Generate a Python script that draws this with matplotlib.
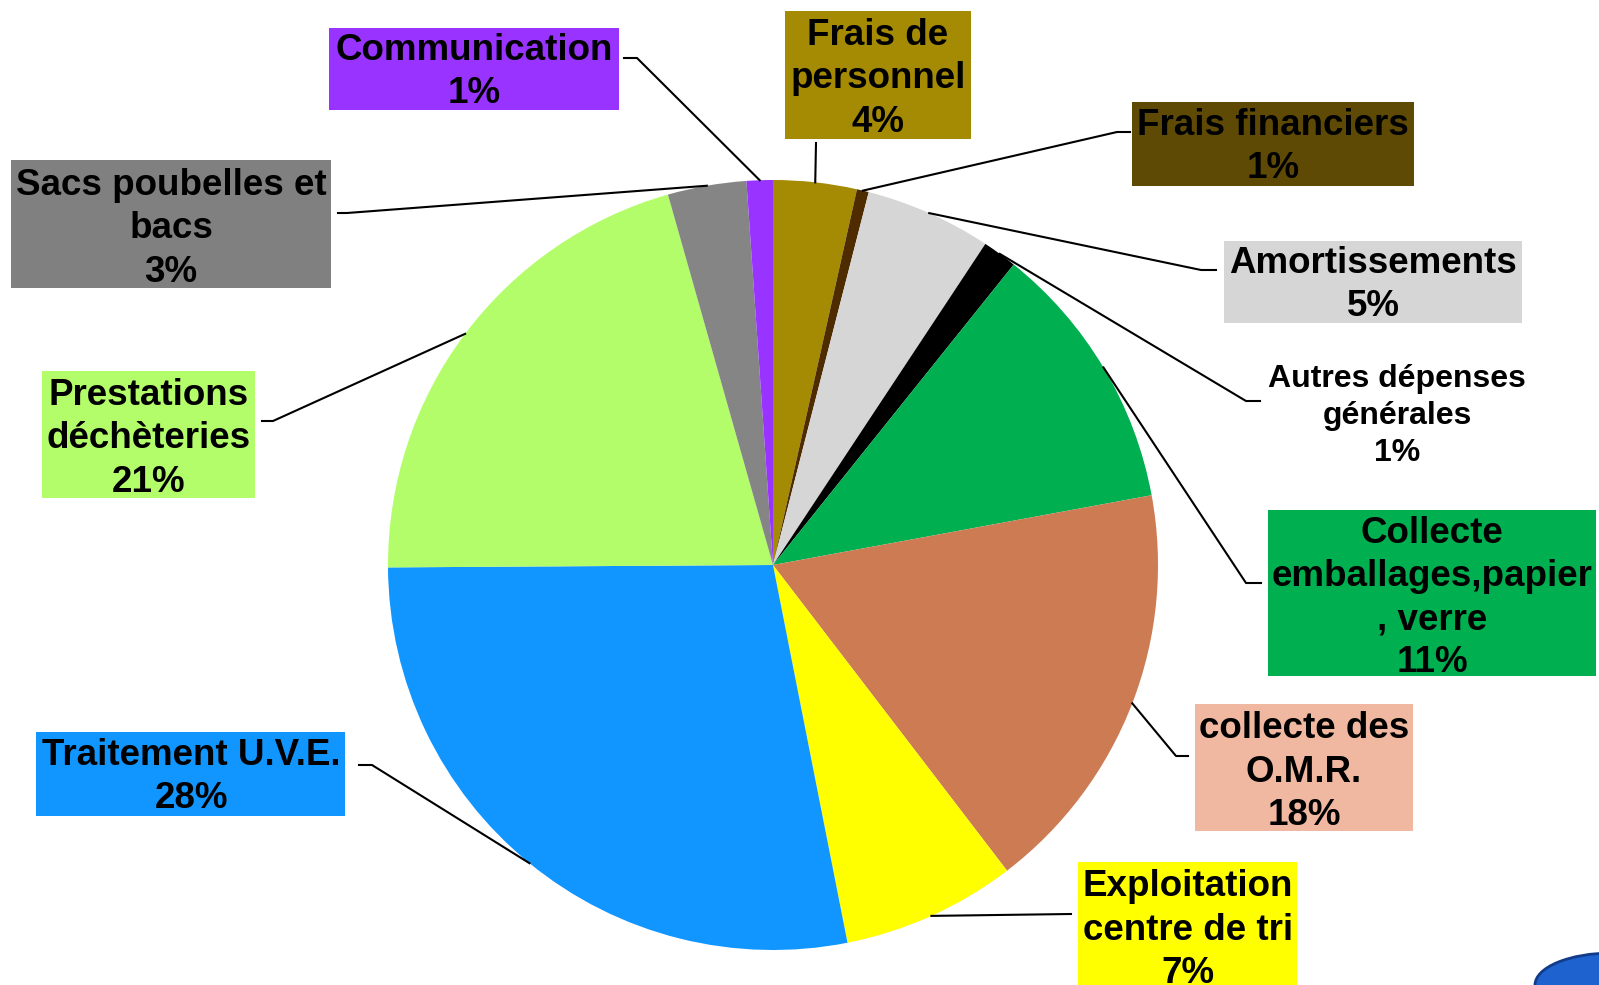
import matplotlib.pyplot as plt
from matplotlib.patches import Rectangle, Ellipse
import numpy as np

# slices, clockwise from 12 o'clock
categories = ['Frais de\npersonnel', 'Frais financiers', 'Amortissements',
              'Autres dépenses\ngénérales', 'Collecte\nemballages,papier\n, verre',
              'collecte des\nO.M.R.', 'Exploitation\ncentre de tri', 'Traitement U.V.E.',
              'Prestations\ndéchèteries', 'Sacs poubelles et\nbacs', 'Communication']
values = [3.5, 0.5, 5.3, 1.45, 11.35, 17.5, 7.3, 28.0, 20.7, 3.3, 1.1]
shown_pct = [4, 1, 5, 1, 11, 18, 7, 28, 21, 3, 1]

slice_colors = ['#A58A03', '#4F2B00', '#D6D6D6', '#000000', '#00AF50', '#CD7B53',
                '#FFFF00', '#1196FF', '#B3FC6A', '#858585', '#9933FF']
box_colors = ['#A58A03', '#5E4A05', '#D6D6D6', None, '#00AF50', '#F0B8A0',
              '#FFFF00', '#1196FF', '#B3FC6A', '#808080', '#9933FF']

W, H = 1599, 985
cx, cy, R = 773, 565, 385

# layout in pixel coords (from top): box (x0, y0, x1, y1), text centre, leader elbow, leader end
boxes = [(785, 11, 971, 139), (1132, 102, 1414, 186), (1224, 241, 1522, 323), None,
         (1268, 510, 1596, 676), (1195, 704, 1413, 831), (1078, 862, 1297, 1000),
         (36, 732, 345, 816), (42, 371, 255, 498), (11, 160, 331, 288), (329, 28, 619, 110)]
text_pos = [(878, 79), (1273, 147), (1373, 285), (1397, 416), (1432, 598), (1304, 772),
            (1188, 930), (191, 777), (149, 439), (171, 229), (474, 72)]
elbows = [(816, 143), (1117, 132), (1201, 270), (1246, 401), (1246, 583), (1176, 756),
          (1071, 914), (372, 765), (273, 421), (347, 213), (637, 58)]
ends = [(816, 143), (1130, 132), (1216, 270), (1260, 401), (1261, 583), (1188, 756),
        (1071, 914), (359, 765), (262, 421), (338, 213), (624, 58)]

fig = plt.figure(figsize=(W / 100, H / 100), dpi=100)
ax = fig.add_axes([0, 0, 1, 1])

wedges, _ = ax.pie(values, colors=slice_colors, startangle=90, counterclock=False,
                   center=(cx, H - cy), radius=R, wedgeprops=dict(linewidth=0))
ax.set_xlim(0, W)
ax.set_ylim(0, H)
ax.set_aspect('equal')
ax.axis('off')

for i, w in enumerate(wedges):
    mid = np.deg2rad((w.theta1 + w.theta2) / 2)
    sx = cx + R * np.cos(mid)
    sy = (H - cy) + R * np.sin(mid)
    ex, ey = elbows[i]
    fx, fy = ends[i]
    ax.plot([sx, ex, fx], [sy, H - ey, H - fy], color='black', lw=1.5, zorder=3)

    if boxes[i] is not None:
        x0, y0, x1, y1 = boxes[i]
        ax.add_patch(Rectangle((x0, H - y1), x1 - x0, y1 - y0, facecolor=box_colors[i],
                               edgecolor='none', zorder=2))
    tx, ty = text_pos[i]
    size = 23 if boxes[i] is None else 26.5
    ax.text(tx, H - ty, categories[i] + '\n' + str(shown_pct[i]) + '%', ha='center', va='center',
            fontsize=size, fontweight='bold', family='Liberation Sans', linespacing=1.3,
            color='black', zorder=4)

# corner logo fragment
ax.add_patch(Ellipse((1612, 0), 154, 64, facecolor='#1E62D0', edgecolor='#123C8A', lw=2,
                     zorder=1))

fig.savefig('out.png', dpi=100)
